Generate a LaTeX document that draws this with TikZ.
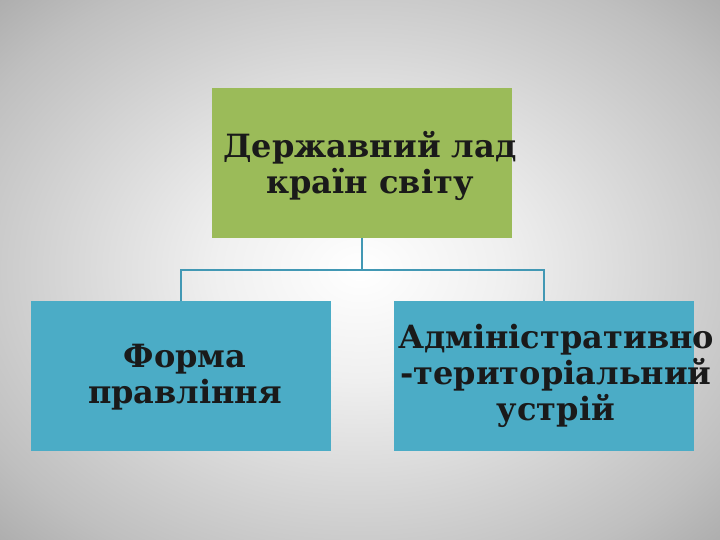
\documentclass[tikz,border=0pt]{standalone}
\usepackage{fontspec}
\setmainfont{DejaVu Serif}
\definecolor{boxgreen}{HTML}{9BBB59}
\definecolor{boxblue}{HTML}{4BACC6}
\definecolor{linkblue}{HTML}{4298B4}
\definecolor{txt}{HTML}{1A1A1A}
\pgfdeclareradialshading{bgshade}{\pgfpoint{0bp}{0bp}}{%
  color(0bp)=(white);
  color(10bp)=(white!94!black);
  color(30bp)=(white!75!black);
  color(50bp)=(white!50!black)}
\begin{document}
\begin{tikzpicture}[x=1pt,y=-1pt,
  box/.style={minimum width=300pt,minimum height=150pt,inner sep=0pt,outer sep=0pt},
  label/.style={text=txt,align=center,font=\bfseries\fontsize{32}{36}\selectfont},
  link/.style={draw=linkblue,line width=2pt}]
\useasboundingbox (0,0) rectangle (720,540);
\clip (0,0) rectangle (720,540);
\shade[shading=bgshade] (0,0) rectangle (720,540);
\node[box,fill=boxgreen] (top) at (362,163) {};
\node[box,fill=boxblue] (left) at (181,376) {};
\node[box,fill=boxblue] (right) at (544,376) {};
\coordinate (mid) at (362,270);
\draw[link] (top.south) -- (mid);
\draw[link] (left.north) |- (mid) -| (right.north);
\node[label] at (370,166) {Державний лад\\країн світу};
\node[label] at (185,377) {Форма\\правління};
\node[label] at (556,376) {Адміністративно\\-територіальний\\устрій};
\end{tikzpicture}
\end{document}
